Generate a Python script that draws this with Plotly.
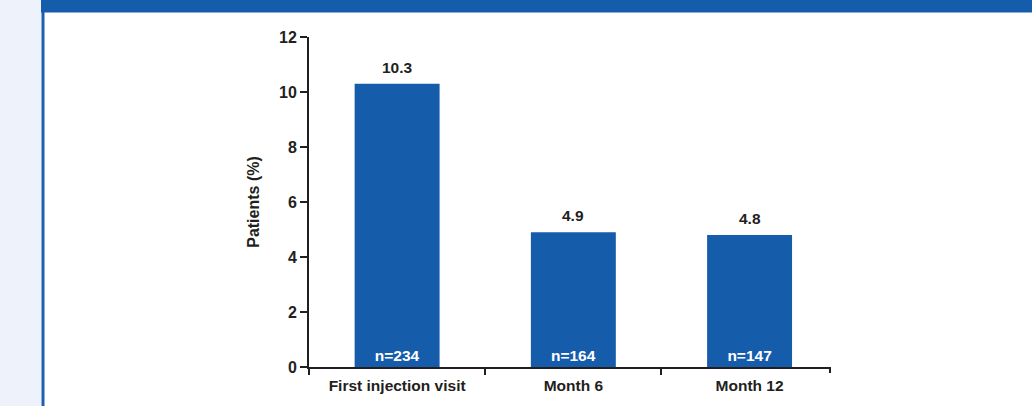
import plotly.graph_objects as go

categories = ["First injection visit", "Month 6", "Month 12"]
values = [10.3, 4.9, 4.8]
value_labels = ["10.3", "4.9", "4.8"]
n_labels = ["n=234", "n=164", "n=147"]
y_ticks = [0, 2, 4, 6, 8, 10, 12]

W, H = 1032, 406
L, R, T, B = 309, 201, 37, 39
pw, ph = W - L - R, H - T - B

def px(x):
    return (x - L) / pw

def py(y):
    return (H - B - y) / ph

BLUE = "#155CAB"
INK = "#231F20"
FONT = "Liberation Sans, Arial, sans-serif"
FS = 15.5

fig = go.Figure()
fig.add_trace(go.Bar(
    x=categories, y=values, marker_color=BLUE, marker_line_width=0,
    text=n_labels, textposition="inside", insidetextanchor="start",
    textangle=0,
    textfont=dict(family=FONT, size=FS, color="white", weight="bold"),
    hoverinfo="skip",
))

for c, v, t in zip(categories, values, value_labels):
    fig.add_annotation(x=c, y=v, text=t, showarrow=False, yanchor="bottom",
                       yshift=6, font=dict(family=FONT, size=FS, color=INK, weight="bold"))

shapes = [
    dict(type="rect", xref="paper", yref="paper", x0=px(0), x1=px(41), y0=py(406), y1=py(0),
         fillcolor="#EEF2FA", line_width=0, layer="below"),
    dict(type="rect", xref="paper", yref="paper", x0=px(41.5), x1=px(44.5), y0=py(406), y1=py(0),
         fillcolor="#1A5FB4", line_width=0, layer="below"),
    dict(type="rect", xref="paper", yref="paper", x0=px(41), x1=px(1032), y0=py(12.5), y1=py(0),
         fillcolor=BLUE, line_width=0, layer="below"),
    # closing tick at the right end of the x axis
    dict(type="line", xref="paper", yref="paper", x0=px(830), x1=px(830), y0=py(367), y1=py(373),
         line=dict(color=INK, width=2)),
]

fig.update_layout(
    width=W, height=H, margin=dict(l=L, r=R, t=T, b=B),
    paper_bgcolor="white", plot_bgcolor="white",
    showlegend=False, bargap=0.518, shapes=shapes,
    font=dict(family=FONT, size=FS, color=INK, weight="bold"),
)
fig.update_xaxes(
    type="category", range=[-0.5, 2.462], showline=True, linecolor=INK, linewidth=2,
    ticks="outside", tickson="boundaries", ticklen=6, tickwidth=2, tickcolor=INK,
    showgrid=False, zeroline=False, ticklabelstandoff=3,
    tickfont=dict(family=FONT, size=FS, color=INK, weight="bold"),
)
fig.update_yaxes(
    range=[0, 12], tickvals=y_ticks, showline=True, linecolor=INK, linewidth=2,
    ticks="outside", ticklen=7, tickwidth=2, tickcolor=INK,
    showgrid=False, zeroline=False, ticklabelstandoff=0,
    tickfont=dict(family=FONT, size=16, color=INK, weight="bold"),
    title=dict(text="Patients (%)", standoff=15,
               font=dict(family=FONT, size=16, color=INK, weight="bold")),
)

fig.write_html("out.html")
